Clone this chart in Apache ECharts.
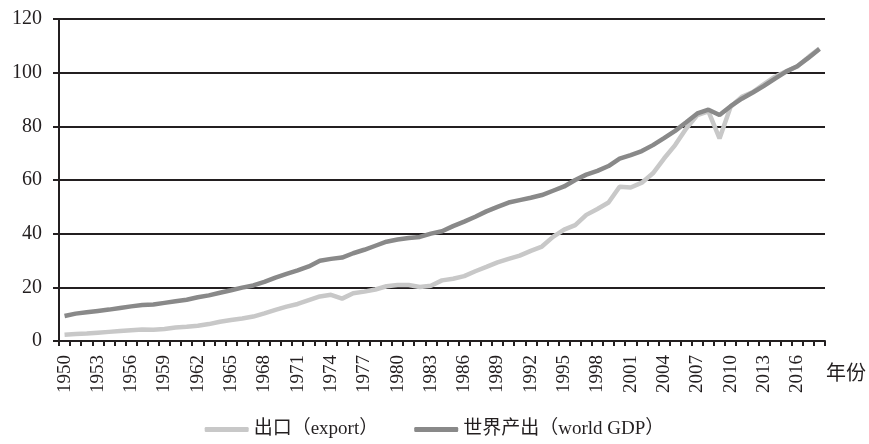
<!DOCTYPE html>
<html>
<head>
<meta charset="utf-8">
<script src="https://cdn.jsdelivr.net/npm/echarts@6/dist/echarts.min.js"></script>
<style>
html,body{margin:0;padding:0;background:#fff;}
#main{width:869px;height:444px;}
</style>
</head>
<body>
<div id="main"></div>
<script>
var years = [];
for (var y = 1950; y <= 2018; y++) years.push(String(y));

var exportValues = [
  2.3, 2.6, 2.8, 3.1, 3.4, 3.7, 4.0, 4.3, 4.2, 4.5,
  5.0, 5.3, 5.7, 6.3, 7.2, 7.8, 8.4, 9.1, 10.3, 11.6,
  12.8, 13.8, 15.2, 16.6, 17.2, 15.8, 17.8, 18.4, 19.2, 20.4,
  20.9, 20.9, 20.1, 20.6, 22.6, 23.2, 24.2, 26.0, 27.6, 29.3,
  30.6, 31.8, 33.6, 35.2, 38.8, 41.5, 43.2, 47.0, 49.2, 51.6,
  57.5, 57.2, 59.0, 62.5, 68.0, 73.0, 79.2, 84.2, 85.6, 75.5,
  87.3, 91.0, 92.8, 95.7, 98.5, 100.5, 102.3, 105.8, 109.0
];
var gdpValues = [
  9.3, 10.2, 10.7, 11.2, 11.7, 12.3, 12.9, 13.4, 13.6, 14.2,
  14.8, 15.4, 16.3, 17.0, 18.0, 18.9, 19.9, 20.7, 22.0, 23.6,
  25.0, 26.3, 27.8, 29.9, 30.6, 31.1, 32.7, 34.0, 35.5, 37.0,
  37.8, 38.4, 38.8, 40.0, 40.9, 42.8, 44.5, 46.3, 48.3, 50.0,
  51.6, 52.5, 53.4, 54.4, 56.0, 57.6, 60.0, 62.0, 63.4, 65.2,
  68.0, 69.3, 70.8, 73.0, 75.6, 78.3, 81.5, 84.8, 86.2, 84.2,
  87.5, 90.3, 92.6, 95.1, 97.8, 100.4, 102.4, 105.5, 108.8
];
var seriesNames = ['出口（export）', '世界产出（world GDP）'];
var axisName = '年份';

var serif = '"Liberation Serif", "DejaVu Serif", "Noto Sans CJK SC", serif';
var chart = echarts.init(document.getElementById('main'));
chart.setOption({
  animation: false,
  backgroundColor: '#ffffff',
  grid: { left: 59, right: 43, top: 19, bottom: 103, containLabel: false },
  legend: {
    bottom: 0,
    left: 'center',
    itemWidth: 44,
    itemHeight: 5,
    itemGap: 36,
    icon: 'roundRect',
    textStyle: { fontFamily: serif, fontSize: 19, color: '#231f20' },
    data: seriesNames
  },
  xAxis: {
    type: 'category',
    data: years,
    boundaryGap: true,
    name: axisName,
    nameLocation: 'end',
    nameGap: 1,
    nameTextStyle: { fontFamily: serif, fontSize: 20, color: '#231f20', align: 'left', verticalAlign: 'top', padding: [24, 0, 0, 0] },
    axisLine: { lineStyle: { color: '#231f20', width: 2 } },
    axisTick: { show: true, interval: 0, length: 5, lineStyle: { color: '#231f20', width: 2 } },
    axisLabel: { interval: 2, rotate: 90, fontFamily: serif, fontSize: 19, color: '#231f20', margin: 14 },
    splitLine: { show: false }
  },
  yAxis: {
    type: 'value',
    min: 0, max: 120, interval: 20,
    axisLine: { show: true, lineStyle: { color: '#231f20', width: 2 } },
    axisTick: { show: true, length: 6, lineStyle: { color: '#231f20', width: 2 } },
    axisLabel: { fontFamily: serif, fontSize: 20, color: '#231f20', margin: 17 },
    splitLine: { show: true, lineStyle: { color: '#231f20', width: 2 } }
  },
  series: [
    {
      name: seriesNames[0], type: 'line', data: exportValues,
      showSymbol: false, symbol: 'none',
      lineStyle: { color: '#c8c8c8', width: 4.5 },
      itemStyle: { color: '#c8c8c8' }
    },
    {
      name: seriesNames[1], type: 'line', data: gdpValues,
      showSymbol: false, symbol: 'none',
      lineStyle: { color: '#898989', width: 4.5 },
      itemStyle: { color: '#898989' }
    }
  ]
});
</script>
</body>
</html>
